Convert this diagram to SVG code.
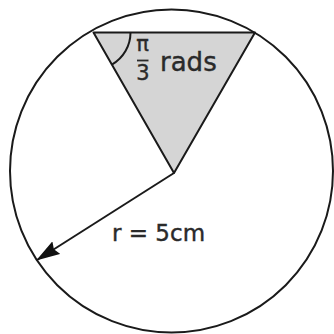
<svg xmlns="http://www.w3.org/2000/svg" width="334" height="334" viewBox="0 0 334 334">
<style>
.ln{fill:none;stroke:#1a1a1a;stroke-width:2}
.t{font-family:"DejaVu Sans",sans-serif;fill:#2a2a2a;stroke:#2a2a2a;stroke-width:0.4}
</style>
<defs>
<marker id="ah" viewBox="0 0 24 15" refX="23" refY="7.5" markerWidth="24" markerHeight="15" markerUnits="userSpaceOnUse" orient="auto">
<path d="M0,0 L24,7.5 L0,15 L3,7.5 z" fill="#111"/>
</marker>
</defs>
<rect width="334" height="334" fill="#fff"/>
<g id="circle">
<circle class="ln" cx="171.5" cy="171" r="161.5"/>
</g>
<g id="sector">
<path d="M93.5,32.5 L255,32.5 L174,173 Z" fill="#d5d5d5" stroke="#1a1a1a" stroke-width="2" stroke-linejoin="round"/>
<path class="ln" d="M130.5,32.5 A37,37 0 0 1 111.9,64.6" stroke-width="1.5"/>
<text class="t" x="142.5" y="51" font-size="21" text-anchor="middle">π</text>
<line x1="137" y1="60.5" x2="148.5" y2="60.5" stroke="#2a2a2a" stroke-width="1.8"/>
<text class="t" x="143" y="79.5" font-size="21" text-anchor="middle">3</text>
<text class="t" x="160" y="71" font-size="26">rads</text>
</g>
<g id="connectors">
<line class="ln" x1="174" y1="173" x2="37" y2="260" marker-end="url(#ah)"/>
</g>
<g id="label">
<text class="t" x="112" y="241" font-size="23">r = 5cm</text>
</g>
</svg>
